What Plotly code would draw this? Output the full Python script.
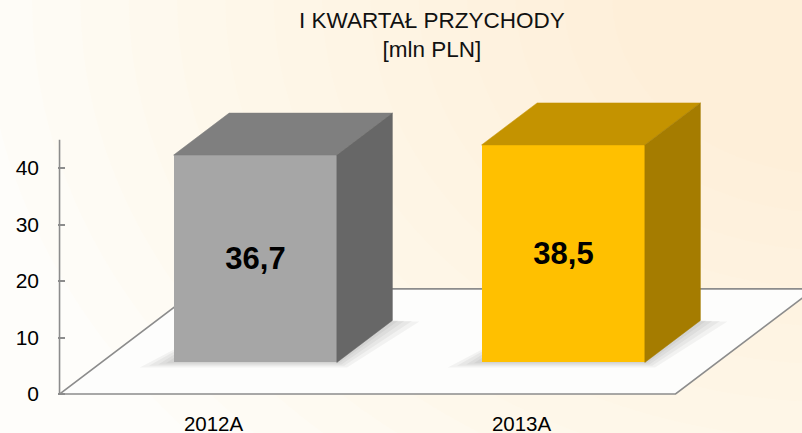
import plotly.graph_objects as go

# ---- data ----
categories = ["2012A", "2013A"]
values = [36.7, 38.5]
value_labels = ["36,7", "38,5"]
y_tick_values = [0, 10, 20, 30, 40]
y_tick_labels = ["0", "10", "20", "30", "40"]

# ---- style ----
front_colors = ["#A6A6A6", "#FFC000"]
top_colors = ["#7F7F7F", "#C49300"]
side_colors = ["#676767", "#A57C00"]
AXIS_GREY = "#8C8C8C"
FONT = "Liberation Sans, Arial, sans-serif"

# 3D projection constants (in axis units)
DX, DY = 0.451, 18.6      # full floor depth offset
D0, D1 = 0.3, 0.7         # bar depth span (fraction of floor depth)
BW = 0.53                 # bar width (category units)
AXIS_TOP = 45

xs = list(range(len(categories)))
n = len(categories)

W, H = 802, 433
L, R, T, B = 58, 0, 90, 37
PX_X = 308.0   # pixels per category
PX_Y = 5.65    # pixels per value unit
x_min = -0.505
x_max = x_min + (W - L - R) / PX_X
y_min = -2 / PX_Y
y_max = y_min + (H - T - B) / PX_Y
plot_h = H - T - B

fig = go.Figure()

shapes = []
# background glow (warm upper-right corner), many faint layers for a smooth gradient
for k in range(14):
    r = 1.15 - k * 0.065
    shapes.append(dict(type="circle", xref="paper", yref="paper",
                       x0=1.05 - r, x1=1.05 + r, y0=1.3 - r * 1.9, y1=1.3 + r * 1.9,
                       fillcolor="#FBEACB", opacity=0.05, line_width=0, layer="below"))

# floor
fx0, fx1 = -0.5, n - 0.5
shapes.append(dict(type="path", xref="x", yref="y", layer="below",
                   path=f"M {fx0},0 L {fx1},0 L {fx1 + DX},{DY} L {fx0 + DX},{DY} Z",
                   fillcolor="#FDFDFC", line=dict(color=AXIS_GREY, width=1.6)))
# value axis line
shapes.append(dict(type="line", xref="x", yref="y", layer="below",
                   x0=fx0, x1=fx0, y0=0, y1=AXIS_TOP,
                   line=dict(color=AXIS_GREY, width=1.6)))

# soft shadows around the bar bases
ddx, ddy = (D1 - D0) * DX, (D1 - D0) * DY
for i in xs:
    cx = i + D0 * DX
    xl, xr = cx - BW / 2, cx + BW / 2
    yb = D0 * DY
    for ex, ey in [(0.11, 0.9), (0.08, 0.6), (0.05, 0.35), (0.025, 0.15)]:
        shapes.append(dict(type="path", xref="x", yref="y", layer="below",
                           path=(f"M {xl - ex},{yb - ey} L {xr + ex * 0.3},{yb - ey} "
                                 f"L {xr + ddx + ex * 0.8},{yb + ddy - ey * 0.2} "
                                 f"L {xl + ddx},{yb + ddy} Z"),
                           fillcolor="rgba(0,0,0,0.045)", line_width=0))

# front faces
fig.add_trace(go.Bar(
    x=[i + D0 * DX for i in xs], y=values, base=[D0 * DY] * n, width=BW,
    marker=dict(color=front_colors, line_width=0),
    text=value_labels, textposition="inside", insidetextanchor="middle",
    textangle=0,
    textfont=dict(size=31, color="black", family=FONT, weight="bold"),
    hoverinfo="skip", showlegend=False))

# top and side faces
for i, v in zip(xs, values):
    cx = i + D0 * DX
    xl, xr = cx - BW / 2, cx + BW / 2
    yb = D0 * DY
    yt = yb + v
    fig.add_trace(go.Scatter(
        x=[xl, xr, xr + ddx, xl + ddx, xl], y=[yt, yt, yt + ddy, yt + ddy, yt],
        mode="lines", fill="toself", fillcolor=top_colors[i],
        line=dict(color=top_colors[i], width=0.5), hoverinfo="skip", showlegend=False))
    fig.add_trace(go.Scatter(
        x=[xr, xr, xr + ddx, xr + ddx, xr], y=[yb, yt, yt + ddy, yb + ddy, yb],
        mode="lines", fill="toself", fillcolor=side_colors[i],
        line=dict(color=side_colors[i], width=0.5), hoverinfo="skip", showlegend=False))

fig.update_layout(
    width=W, height=H,
    margin=dict(l=L, r=R, t=T, b=B, pad=0, autoexpand=False),
    paper_bgcolor="#FEFDFA", plot_bgcolor="rgba(0,0,0,0)",
    font=dict(family=FONT, color="black"),
    annotations=[dict(text="I KWARTAŁ PRZYCHODY<br>[mln PLN]",
                      xref="paper", yref="paper",
                      x=(432 - L) / (W - L - R), y=1 + (T - 6) / plot_h,
                      xanchor="center", yanchor="top", showarrow=False,
                      font=dict(size=22.5, color="#111111", family=FONT))],
    xaxis=dict(range=[x_min, x_max], tickvals=xs, ticktext=categories,
               showgrid=False, zeroline=False, showline=False, ticks="",
               tickfont=dict(size=20.5), ticklabelstandoff=13, automargin=False),
    yaxis=dict(range=[y_min, y_max], tickvals=y_tick_values, ticktext=y_tick_labels,
               showgrid=False, zeroline=False, showline=False,
               ticks="inside", ticklen=7, tickwidth=1.5, tickcolor=AXIS_GREY,
               tickfont=dict(size=21), ticklabelstandoff=18, automargin=False),
    shapes=shapes,
    bargap=0,
)

fig.write_html("out.html", config={"displayModeBar": False},
               post_script="document.body.style.margin='0';document.body.style.overflow='hidden';")
